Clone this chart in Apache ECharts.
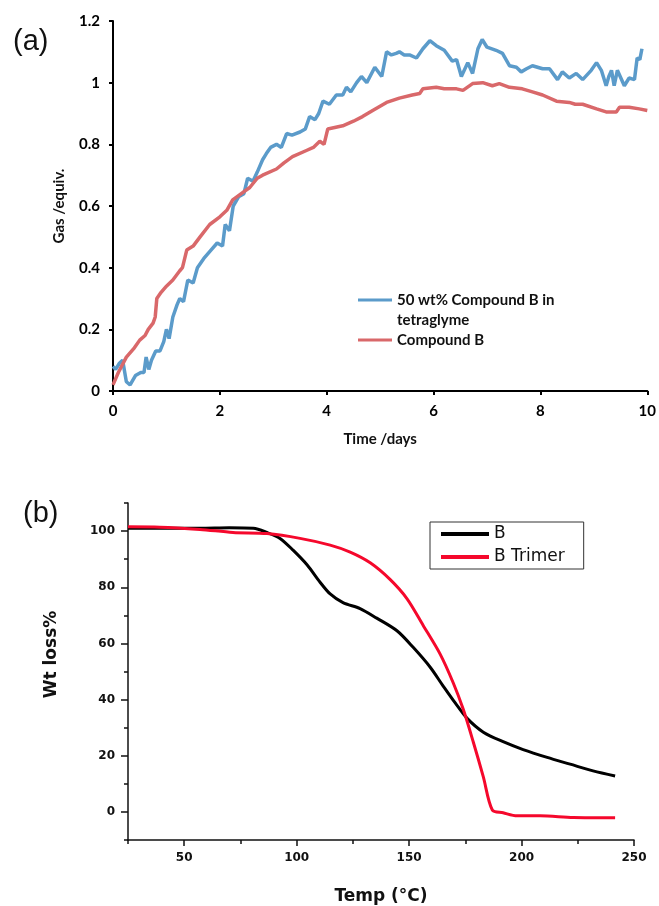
<!DOCTYPE html>
<html><head><meta charset="utf-8">
<script src="https://cdn.jsdelivr.net/npm/echarts@6/dist/echarts.min.js"></script>
<style>html,body{margin:0;padding:0;background:#fff}#c{width:659px;height:906px}</style>
</head><body><div id="c"></div>
<script>
// ---- Panel (a): gas release vs time ----
const seriesNamesA = ['50 wt% Compound B in\ntetraglyme', 'Compound B'];
const xTicksA = [0, 2, 4, 6, 8, 10];
const yTicksA = [0, 0.2, 0.4, 0.6, 0.8, 1, 1.2];
const blueA = [[0,0.08],[0.05,0.07],[0.12,0.09],[0.18,0.1],[0.25,0.03],[0.32,0.02],[0.42,0.05],[0.52,0.06],[0.58,0.06],[0.62,0.11],[0.67,0.07],[0.72,0.1],[0.8,0.13],[0.88,0.13],[0.95,0.16],[1.0,0.2],[1.05,0.17],[1.12,0.24],[1.2,0.28],[1.25,0.3],[1.32,0.29],[1.4,0.36],[1.5,0.35],[1.58,0.4],[1.7,0.43],[1.85,0.46],[1.95,0.48],[2.05,0.47],[2.1,0.54],[2.18,0.52],[2.25,0.6],[2.35,0.63],[2.45,0.64],[2.52,0.69],[2.62,0.68],[2.7,0.71],[2.8,0.75],[2.87,0.77],[2.95,0.79],[3.06,0.8],[3.15,0.79],[3.25,0.835],[3.35,0.83],[3.5,0.84],[3.6,0.85],[3.68,0.89],[3.78,0.88],[3.85,0.9],[3.93,0.94],[4.05,0.93],[4.18,0.96],[4.3,0.96],[4.37,0.985],[4.45,0.97],[4.56,1.0],[4.65,1.02],[4.75,1.0],[4.9,1.05],[5.03,1.02],[5.12,1.1],[5.21,1.09],[5.3,1.095],[5.36,1.1],[5.45,1.09],[5.55,1.09],[5.68,1.08],[5.8,1.11],[5.93,1.136],[6.05,1.12],[6.2,1.105],[6.35,1.07],[6.43,1.075],[6.52,1.02],[6.64,1.065],[6.73,1.03],[6.83,1.11],[6.91,1.14],[7.0,1.115],[7.17,1.105],[7.29,1.095],[7.42,1.055],[7.55,1.05],[7.64,1.035],[7.74,1.045],[7.85,1.055],[8.04,1.045],[8.17,1.045],[8.32,1.01],[8.41,1.035],[8.54,1.015],[8.67,1.03],[8.79,1.01],[8.95,1.04],[9.05,1.065],[9.14,1.04],[9.23,0.99],[9.28,1.02],[9.33,1.04],[9.38,0.99],[9.44,1.04],[9.57,0.99],[9.66,1.015],[9.76,1.01],[9.81,1.08],[9.86,1.075],[9.9,1.11]];
const redA = [[0,0.02],[0.1,0.06],[0.25,0.11],[0.4,0.14],[0.5,0.165],[0.6,0.18],[0.66,0.2],[0.75,0.22],[0.79,0.24],[0.82,0.3],[0.9,0.32],[1.0,0.34],[1.12,0.36],[1.25,0.39],[1.3,0.4],[1.38,0.457],[1.5,0.47],[1.63,0.5],[1.81,0.54],[2.0,0.565],[2.13,0.586],[2.24,0.62],[2.4,0.64],[2.56,0.66],[2.7,0.69],[2.8,0.7],[3.06,0.72],[3.2,0.74],[3.36,0.76],[3.62,0.78],[3.75,0.79],[3.87,0.81],[3.95,0.8],[4.02,0.85],[4.3,0.86],[4.5,0.875],[4.67,0.89],[4.86,0.91],[5.12,0.936],[5.36,0.95],[5.6,0.96],[5.74,0.965],[5.8,0.98],[6.05,0.985],[6.2,0.98],[6.43,0.98],[6.55,0.975],[6.73,0.997],[6.92,1.0],[7.1,0.99],[7.23,0.997],[7.42,0.985],[7.66,0.98],[7.85,0.97],[8.04,0.96],[8.3,0.94],[8.54,0.936],[8.65,0.93],[8.79,0.93],[9.05,0.915],[9.23,0.905],[9.42,0.905],[9.48,0.92],[9.66,0.92],[9.85,0.915],[10,0.91]];

// ---- Panel (b): TGA ----
const seriesNamesB = ['B', 'B Trimer'];
const xLabelsB = [50, 100, 150, 200, 250];
const xMinorB = [25, 75, 125, 175, 225];
const yLabelsB = [0, 20, 40, 60, 80, 100];
const yMinorB = [-10, 10, 30, 50, 70, 90, 110];
const blackB = [[25,101],[40,101],[57,101],[70,101.2],[80.7,101],[86.8,99.5],[92.6,97.4],[98.4,93.2],[104.6,88],[110.4,81.8],[114.9,77.6],[120.6,74.5],[128.2,72.4],[135.6,69],[144.6,64.5],[151.8,58.6],[159.3,51.6],[165,45],[170.5,38.8],[175.8,33.3],[183,28.4],[191.8,25],[200.7,22.2],[211.4,19.4],[221.6,17],[231.8,14.6],[241.6,12.8]];
const redB = [[25,101.5],[39.2,101.4],[57,100.6],[71.7,99.5],[86.8,99.1],[101.5,97.4],[114.9,95],[123.8,92.5],[132.7,88.7],[141.5,82.8],[149.1,75.9],[156.2,66.5],[163.8,56.2],[169.6,46],[174,36.7],[178.5,25],[183,12.5],[187,0.7],[191.8,-0.3],[198,-1.4],[208.3,-1.4],[223,-2],[241.6,-2.1]];

const fA = 'Lato';
const fB = 'DejaVu Sans';
const blue = '#5b9bca', red = '#d9686a';
// legend glyph: a 3px bar at the height of the first text line inside a 34x40 box
const barIcon = 'path://M0,0h0.01v0.01h-0.01z M0,8.5h34v3h-34z M0,39.99h0.01v0.01h-0.01z';

const chart = echarts.init(document.getElementById('c'), null, {renderer: 'canvas'});
const lineA = {show: true, lineStyle: {color: '#000', width: 2}};
const lblA = {color: '#000', fontFamily: fA, fontWeight: 'bold', fontSize: 15};
const lineB = {show: true, onZero: false, lineStyle: {color: '#111', width: 1.5}};
const lblB = {color: '#111', fontFamily: fB, fontWeight: 'bold', fontSize: 12};

chart.setOption({
  animation: false,
  backgroundColor: '#fff',
  title: [
    {text: '(a)', left: 8, top: 22, textStyle: {fontFamily: 'Liberation Sans', fontWeight: 'normal', fontSize: 29, color: '#111'}},
    {text: '(b)', left: 18, top: 494, textStyle: {fontFamily: 'Liberation Sans', fontWeight: 'normal', fontSize: 29, color: '#111'}}
  ],
  grid: [
    {left: 113, top: 21, width: 535, height: 370},
    {left: 128, top: 503, width: 506, height: 344}
  ],
  legend: [
    {data: [seriesNamesA[0]], orient: 'vertical', left: 358, top: 290, padding: 0,
     icon: barIcon, itemWidth: 34, itemHeight: 40, symbolKeepAspect: false,
     textStyle: {fontFamily: fA, fontWeight: 'bold', fontSize: 15, color: '#111', lineHeight: 20}},
    {data: [seriesNamesA[1]], orient: 'vertical', left: 358, top: 330, padding: 0,
     icon: 'rect', itemWidth: 34, itemHeight: 3,
     textStyle: {fontFamily: fA, fontWeight: 'bold', fontSize: 15, color: '#111', lineHeight: 20}},
    {data: seriesNamesB, orient: 'vertical', left: 430, top: 522, padding: [3, 19, 3, 11], itemGap: 5,
     borderColor: '#333', borderWidth: 1, icon: 'rect', itemWidth: 48, itemHeight: 4,
     textStyle: {fontFamily: fB, fontSize: 17, color: '#111', lineHeight: 18}}
  ],
  xAxis: [
    {gridIndex: 0, type: 'value', min: 0, max: 10, interval: 2, axisLine: lineA,
     axisTick: {show: true, length: 4, lineStyle: {color: '#000', width: 2}},
     axisLabel: Object.assign({margin: 13}, lblA), splitLine: {show: false},
     name: 'Time /days', nameLocation: 'middle', nameGap: 41,
     nameTextStyle: {fontFamily: fA, fontWeight: 'bold', fontSize: 15, color: '#111'}},
    {gridIndex: 1, type: 'value', position: 'bottom', min: 25, max: 250, axisLine: lineB,
     axisTick: {show: true, length: 6, customValues: xLabelsB, lineStyle: {color: '#111', width: 1.5}},
     axisLabel: Object.assign({margin: 12, customValues: xLabelsB}, lblB), splitLine: {show: false},
     name: 'Temp (°C)', nameLocation: 'middle', nameGap: 48,
     nameTextStyle: {fontFamily: fB, fontWeight: 'bold', fontSize: 17, color: '#111'}},
    {gridIndex: 1, type: 'value', position: 'bottom', offset: 0, min: 25, max: 250,
     axisLine: {show: false, onZero: false},
     axisTick: {show: true, length: 4, customValues: xMinorB, lineStyle: {color: '#111', width: 1.5}},
     axisLabel: {show: false}, splitLine: {show: false}}
  ],
  yAxis: [
    {gridIndex: 0, type: 'value', min: 0, max: 1.2, interval: 0.2, axisLine: lineA,
     axisTick: {show: true, length: 4, lineStyle: {color: '#000', width: 2}},
     axisLabel: Object.assign({margin: 13}, lblA), splitLine: {show: false},
     name: 'Gas /equiv.', nameLocation: 'middle', nameGap: 46, nameRotate: 90,
     nameTextStyle: {fontFamily: fA, fontWeight: 'bold', fontSize: 15, color: '#111'}},
    {gridIndex: 1, type: 'value', position: 'left', min: -10, max: 110, axisLine: lineB,
     axisTick: {show: true, length: 7, customValues: yLabelsB, lineStyle: {color: '#111', width: 1.5}},
     axisLabel: Object.assign({margin: 13, customValues: yLabelsB}, lblB), splitLine: {show: false},
     name: 'Wt loss%', nameLocation: 'middle', nameGap: 68, nameRotate: 90,
     nameTextStyle: {fontFamily: fB, fontWeight: 'bold', fontSize: 17, color: '#111', padding: [0, 0, 0, 34]}},
    {gridIndex: 1, type: 'value', position: 'left', offset: 0, min: -10, max: 110,
     axisLine: {show: false, onZero: false},
     axisTick: {show: true, length: 4, customValues: yMinorB, lineStyle: {color: '#111', width: 1.5}},
     axisLabel: {show: false}, splitLine: {show: false}}
  ],
  series: [
    {name: seriesNamesA[0], type: 'line', xAxisIndex: 0, yAxisIndex: 0, data: blueA, showSymbol: false, symbol: 'none',
     itemStyle: {color: blue}, lineStyle: {color: blue, width: 3.5}},
    {name: seriesNamesA[1], type: 'line', xAxisIndex: 0, yAxisIndex: 0, data: redA, showSymbol: false, symbol: 'none',
     itemStyle: {color: red}, lineStyle: {color: red, width: 3.5}},
    {name: seriesNamesB[0], type: 'line', xAxisIndex: 1, yAxisIndex: 1, data: blackB, showSymbol: false, symbol: 'none', smooth: 0.3,
     itemStyle: {color: '#000'}, lineStyle: {color: '#000', width: 3}},
    {name: seriesNamesB[1], type: 'line', xAxisIndex: 1, yAxisIndex: 1, data: redB, showSymbol: false, symbol: 'none', smooth: 0.3,
     itemStyle: {color: '#f5082c'}, lineStyle: {color: '#f5082c', width: 3}}
  ]
});
</script></body></html>
